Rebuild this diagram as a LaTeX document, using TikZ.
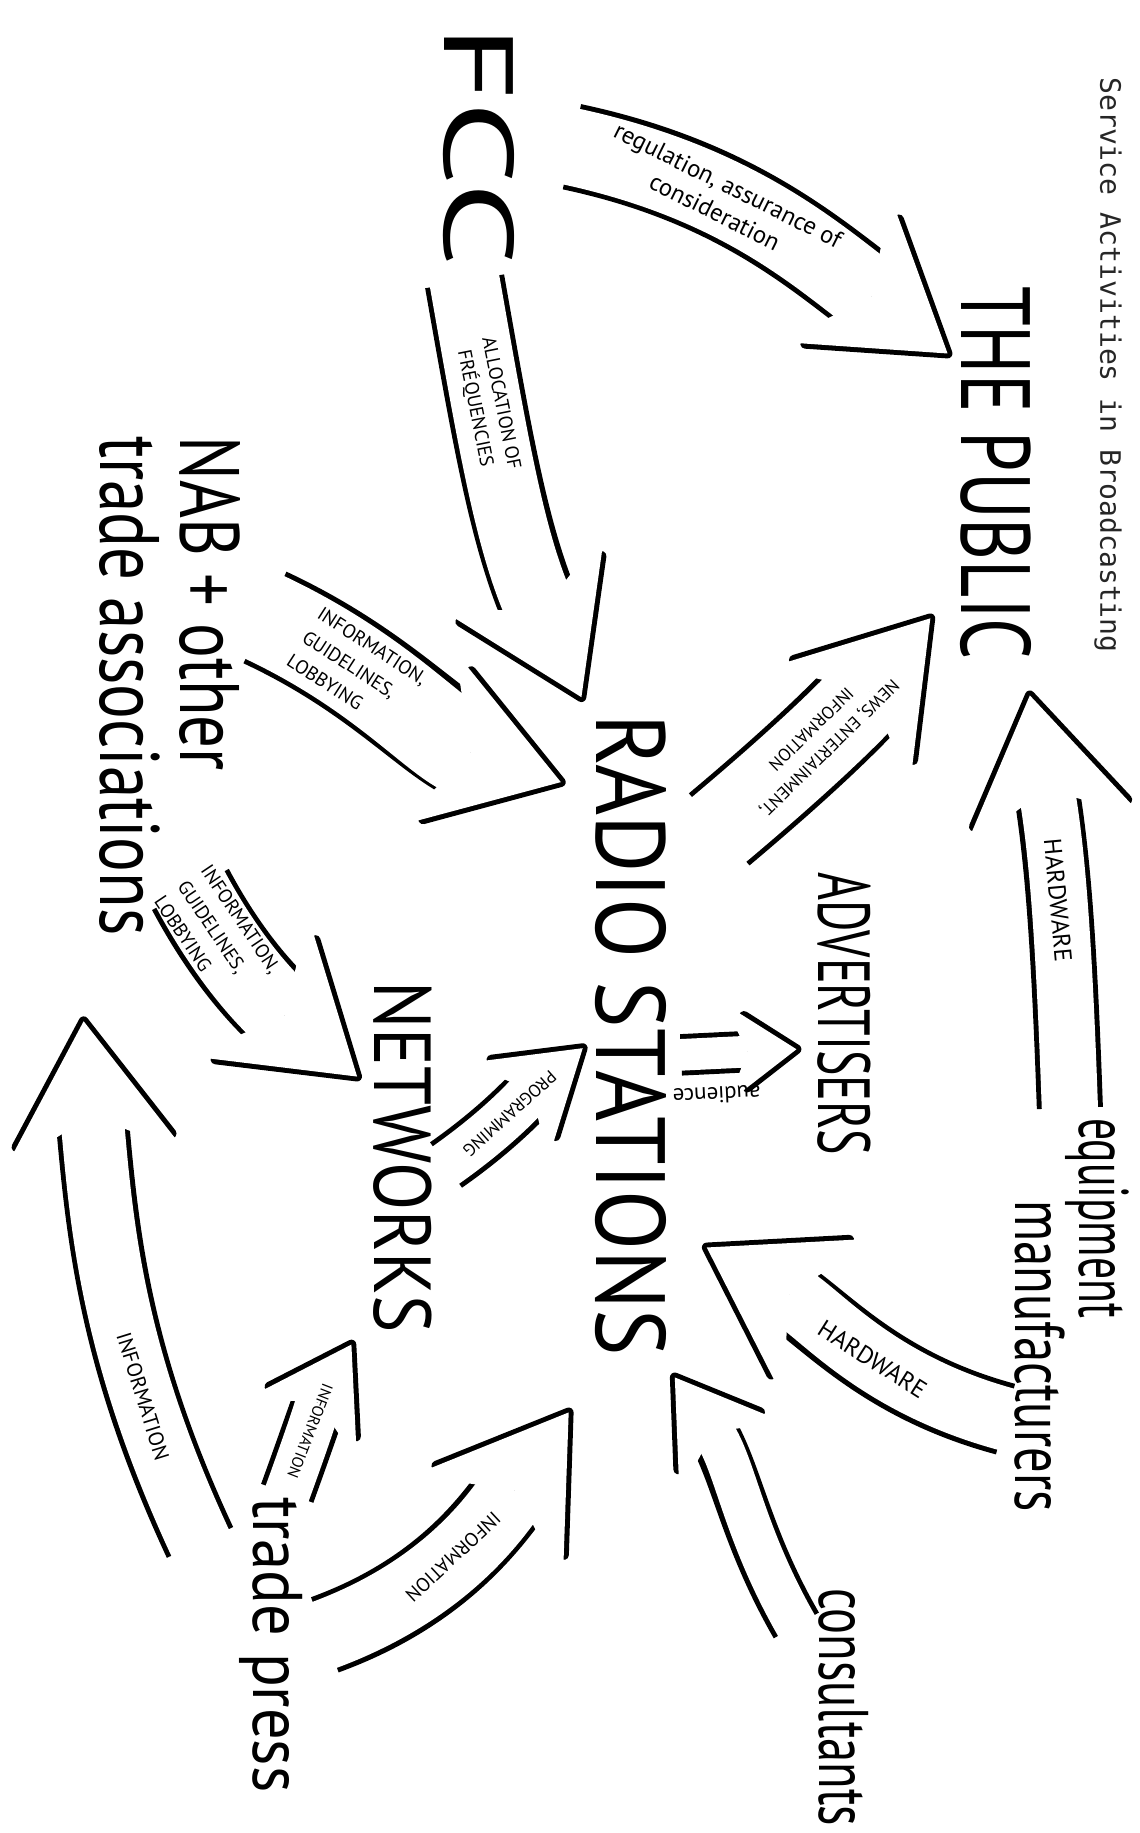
\documentclass[tikz,border=0pt]{standalone}
\usepackage{fontspec}
\setmainfont{PT Sans}
\newfontfamily\monofont{DejaVu Sans Mono}
\usepackage{tikz}
\usetikzlibrary{arrows.meta,positioning,calc}

\begin{document}
\begin{tikzpicture}[x=0.1mm, y=0.1mm, line width=0.5pt,
  word/.style={inner sep=0pt, rotate=-90},
  big/.style={word, font=\fontsize{28}{28}\selectfont},
  hand/.style={word, font=\fontsize{20}{20}\selectfont},
  lbl/.style n args={2}{inner sep=0pt, align=center, sloped, font=\fontsize{#1}{#2}\selectfont},
  flip/.style={allow upside down, rotate=180},
  flow/.style={draw=white, line width=#1, shorten >=1.4pt,
    -{Stealth[length=40pt, width=52pt, inset=13pt, line width=0pt]},
    preaction={draw=black, line width=#1+2.8pt, shorten >=0pt, shorten <=1pt,
      -{Stealth[length=40pt, width=52pt, inset=13pt, line width=2.8pt, round]}}},
  flow/.default=20pt,
  flowthin/.style={draw=white, line width=#1, shorten >=1.4pt,
    -{Stealth[length=28pt, width=36pt, inset=9pt, line width=0pt]},
    preaction={draw=black, line width=#1+2.8pt, shorten >=0pt, shorten <=1pt,
      -{Stealth[length=28pt, width=36pt, inset=9pt, line width=2.8pt, round]}}},
  flowthin/.default=12pt,
  flowshort/.style={draw=white, line width=9pt, shorten >=1.4pt,
    -{Stealth[length=20pt, width=28pt, inset=6pt, line width=0pt]},
    preaction={draw=black, line width=11.8pt, shorten >=0pt, shorten <=1pt,
      -{Stealth[length=20pt, width=28pt, inset=6pt, line width=2.8pt, round]}}}]
\useasboundingbox (0,0) rectangle (1140,-1833);
%% title
\node[word, text=black!85, font=\monofont\fontsize{8}{8}\selectfont] (title) at (1108,-365) {Service Activities in Broadcasting};
%% actors
\node[big, xscale=1.5] (fcc) at (479,-146) {FCC};
\node[big, xscale=0.73] (public) at (996,-473) {THE PUBLIC};
\node[word, align=left, font=\fontsize{24}{23}\selectfont, xscale=0.77] (nab) at (170,-686) {NAB + other\\trade associations};
\node[big, xscale=0.89] (radio) at (631,-1035) {RADIO STATIONS};
\node[word, font=\fontsize{21}{21}\selectfont, xscale=0.65] (adv) at (844,-1014) {ADVERTISERS};
\node[word, font=\fontsize{23}{23}\selectfont, xscale=0.87] (net) at (403,-1157) {NETWORKS};
\node[hand, xscale=0.62] (equip) at (1097,-1218) {equipment};
\node[hand, xscale=0.72] (manuf) at (1040,-1356) {manufacturers};
\node[hand, xscale=0.69] (consult) at (844,-1707) {consultants};
\node[hand, xscale=0.89] (press) at (271,-1645) {trade press};
%% flows
\draw[flow=22pt] ([shift={(53,0)}]fcc.north) to[out=-12, in=143]
  node[lbl={7}{8.5}, pos=0.36] {regulation, assurance of\\consideration}
  ([shift={(-8,-71)}]public.south west);
\draw[flow] ([shift={(-15,-10)}]fcc.east) to[out=-80, in=115]
  node[lbl={5.5}{7.5}, pos=0.28] {ALLOCATION OF\\FRÉQUENCIES}
  ([shift={(-11,12)}]radio.south west);
\draw[flow=26pt] ([shift={(20,70)}]nab.north) to[out=-25, in=162]
  node[lbl={5.5}{8}, align=left, pos=0.3] {INFORMATION,\\GUIDELINES,\\LOBBYING}
  ([shift={(-29,-70)}]radio.south west);
\draw[flow=22pt] ([shift={(-53,50)}]nab.north east) to[out=-62, in=140]
  node[lbl={5.5}{8}, align=left, pos=0.2] {INFORMATION,\\GUIDELINES,\\LOBBYING}
  ([shift={(-12,-99)}]net.south west);
\draw[flow=24pt] ([shift={(49,-118)}]radio.north west) to[out=40, in=-130]
  node[lbl={5}{7.5}, flip, pos=0.45] {NEWS, ENTERTAINMENT,\\INFORMATION}
  ([shift={(-26,46)}]public.south east);
\draw[flow=16pt] ([shift={(-27,6)}]equip.west) to[out=92, in=-80]
  node[lbl={7}{8}, pos=0.5] {HARDWARE}
  ([shift={(33,-30)}]public.east);
\draw[flow=18pt] ([shift={(-5,-64)}]manuf.south) to[out=165, in=-30]
  node[lbl={7}{8}, pos=0.42] {HARDWARE}
  ([shift={(35,-210)}]radio.north);
\draw[flowthin] ([shift={(-20,-41)}]consult.south west) to[out=120, in=-55]
  ([shift={(41,-17)}]radio.east);
\draw[flow=18pt] ([shift={(-37,-49)}]press.south west) to[out=115, in=-85]
  node[lbl={6}{7}, pos=0.28] {INFORMATION}
  ([shift={(-15,-80)}]nab.south east);
\draw[flowthin=13pt] ([shift={(15,0)}]press.west) to[out=70, in=-120]
  node[lbl={4.5}{5}, flip, pos=0.4] {INFORMATION}
  ([shift={(-19,-7)}]net.south east);
\draw[flow] ([shift={(18,9)}]press.north) to[out=20, in=-125]
  node[lbl={5.5}{6}, flip, pos=0.45] {INFORMATION}
  ([shift={(-23,-52)}]radio.south east);
\draw[flowshort] ([shift={(10,-20)}]radio.north) --
  node[lbl={6.5}{7}, flip, pos=0.3, yshift=4.2mm] {audience}
  ([shift={(-15,-35)}]adv.south);
\draw[flowthin=13pt] ([shift={(10,-10)}]net.north) to[out=35, in=-140]
  node[lbl={5}{6}, flip, pos=0.45] {PROGRAMMING}
  ([shift={(-8,-10)}]radio.south);
\end{tikzpicture}
\end{document}
